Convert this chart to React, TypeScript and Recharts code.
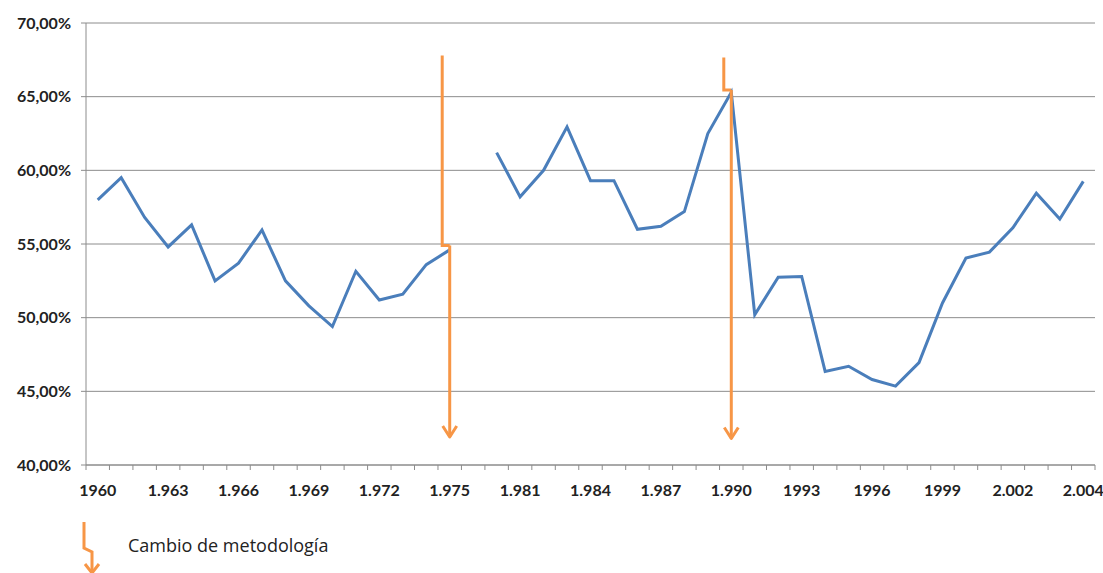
import { LineChart, Line, XAxis, YAxis, CartesianGrid, ReferenceLine } from "recharts"

// categorías del eje (se etiqueta una de cada tres)
const categories = [
  "1960", "1961", "1962", "1.963", "1964", "1965", "1.966", "1967", "1968", "1.969",
  "1970", "1971", "1.972", "1973", "1974", "1.975", "", "1980", "1.981", "1982",
  "1983", "1.984", "1985", "1986", "1.987", "1988", "1989", "1.990", "1991", "1992",
  "1993", "1994", "1995", "1996", "1997", "1998", "1999", "2000", "2001", "2.002",
  "2003", "2003", "2.004",
]

// porcentaje (null = sin dato)
const values: (number | null)[] = [
  58.0, 59.5, 56.8, 54.8, 56.3, 52.5, 53.7, 55.95, 52.5, 50.8,
  49.4, 53.15, 51.2, 51.6, 53.6, 54.6, null, 61.2, 58.2, 60.0,
  62.95, 59.3, 59.3, 56.0, 56.2, 57.2, 62.5, 65.3, 50.2, 52.75,
  52.8, 46.35, 46.7, 45.8, 45.35, 46.95, 51.0, 54.05, 54.45, 56.1,
  58.45, 56.7, 59.25,
]

const yTicks = [40, 45, 50, 55, 60, 65, 70]

// flechas de "cambio de metodología": índice de categoría, inicio, quiebre y punta (%)
const arrowIndex = [15, 27]
const arrowTop = [67.8, 67.65]
const arrowJog = [54.9, 65.45]
const arrowTip = [41.9, 41.8]

const ORANGE = "#F79646"
const BLUE = "#4A7EBB"
const GRID = "#8C8C8C"
const FONT = "Lato, 'Open Sans', sans-serif"

const chartData = values.map((v, i) => ({ i, name: categories[i], v }))

const boundaryTicks = categories.map((_, i) => i - 0.5).concat([categories.length - 0.5])
const labelTicks = categories.map((_, i) => i).filter(i => i % 3 === 0)
const xTicks = [...boundaryTicks, ...labelTicks].sort((a, b) => a - b)

const XTick = ({ x, y, payload }: any) => {
  const v = payload.value
  if (!Number.isInteger(v)) {
    return <line x1={x} x2={x} y1={y - 5} y2={y} stroke={GRID} strokeWidth={1} />
  }
  return (
    <text x={x} y={y + 26} textAnchor="middle" fontFamily={FONT} fontWeight={700} fontSize={16} fill="#222">
      {categories[v]}
    </text>
  )
}

const UpperPart = (props: any) => {
  const { x1, y1, y2 } = props
  const ux = x1 - 7.5
  return (
    <path d={`M${ux},${y1} L${ux},${y2} L${x1},${y2}`} fill="none" stroke={ORANGE} strokeWidth={3} />
  )
}

const LowerPart = (props: any) => {
  const { x1, y1, y2 } = props
  return (
    <g>
      <line x1={x1} x2={x1} y1={y1} y2={y2} stroke={ORANGE} strokeWidth={3} />
      <path
        d={`M${x1 - 7},${y2 - 11} L${x1},${y2} L${x1 + 7},${y2 - 11}`}
        fill="none"
        stroke={ORANGE}
        strokeWidth={3}
        strokeLinejoin="round"
      />
    </g>
  )
}

export default function App() {
  return (
    <div style={{ position: "absolute", left: 0, top: 0, width: 1103, height: 573, background: "#fff" }}>
      <LineChart
        width={1103}
        height={573}
        data={chartData}
        margin={{ top: 23, right: 8, left: 0, bottom: 78 }}
      >
        <CartesianGrid vertical={false} stroke={GRID} strokeWidth={1} />
        <XAxis
          dataKey="i"
          type="number"
          domain={[-0.5, categories.length - 0.5]}
          ticks={xTicks}
          interval={0}
          tick={<XTick />}
          tickLine={false}
          tickSize={5}
          tickMargin={0}
          height={30}
          axisLine={{ stroke: GRID }}
        />
        <YAxis
          type="number"
          domain={[40, 70]}
          ticks={yTicks}
          width={86}
          tickSize={5}
          tickMargin={10}
          tickLine={{ stroke: GRID }}
          axisLine={{ stroke: GRID }}
          tick={{ fontFamily: FONT, fontWeight: 700, fontSize: 16, fill: "#222" }}
          tickFormatter={(v: number) => v.toFixed(2).replace(".", ",") + "%"}
        />
        <Line
          type="linear"
          dataKey="v"
          stroke={BLUE}
          strokeWidth={3}
          dot={false}
          activeDot={false}
          isAnimationActive={false}
        />
        {arrowIndex.map((ix, k) => (
          <ReferenceLine
            key={`up-${k}`}
            segment={[{ x: ix, y: arrowTop[k] }, { x: ix, y: arrowJog[k] }]}
            shape={UpperPart}
          />
        ))}
        {arrowIndex.map((ix, k) => (
          <ReferenceLine
            key={`low-${k}`}
            segment={[{ x: ix, y: arrowJog[k] }, { x: ix, y: arrowTip[k] }]}
            shape={LowerPart}
          />
        ))}
      </LineChart>
      <div style={{ position: "absolute", left: 70, top: 512, width: 400, height: 61, overflow: "hidden" }}>
        <svg width={40} height={61} style={{ position: "absolute", left: 0, top: 0 }}>
          <path d="M14,10 L14,36 L22,40 L22,64" fill="none" stroke={ORANGE} strokeWidth={3} />
          <path d="M15,52 L22,61 L29,52" fill="none" stroke={ORANGE} strokeWidth={3} strokeLinejoin="round" />
        </svg>
        <span
          style={{
            position: "absolute",
            left: 58,
            top: 21,
            fontFamily: "'Open Sans', sans-serif",
            fontSize: 18,
            color: "#222",
            whiteSpace: "nowrap",
          }}
        >
          Cambio de metodología
        </span>
      </div>
    </div>
  )
}
